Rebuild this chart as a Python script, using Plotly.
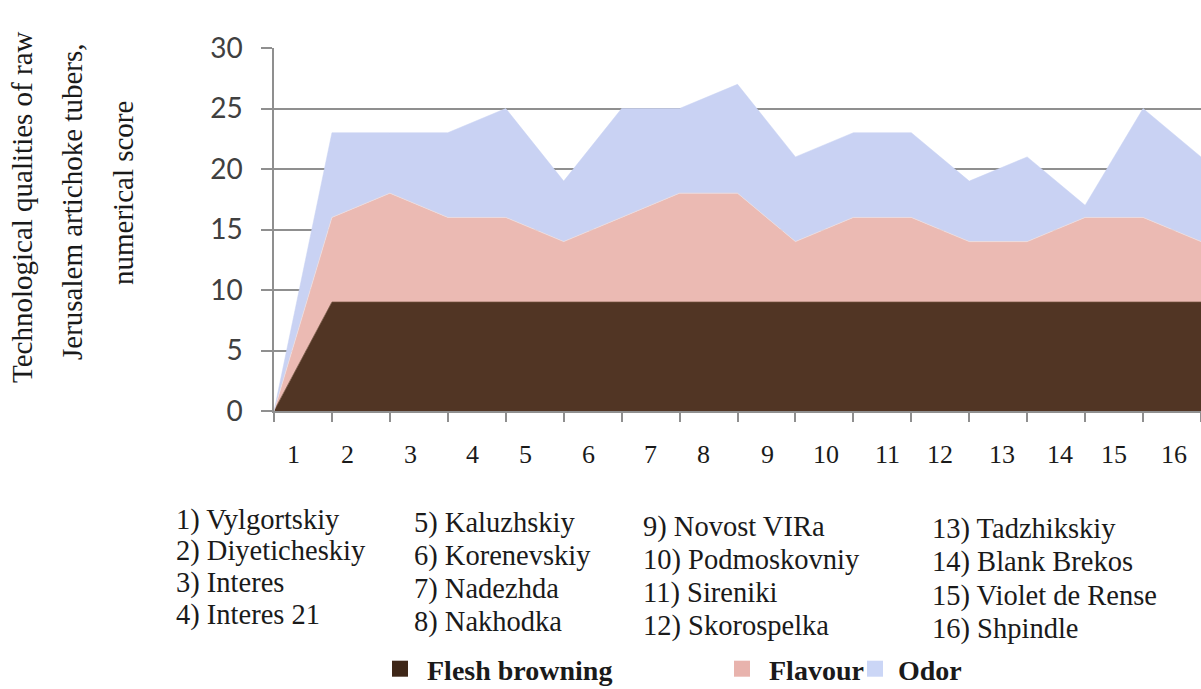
import plotly.graph_objects as go

# Jerusalem artichoke varieties, numbered as on the category axis
variety_names = [
    "Vylgortskiy", "Diyeticheskiy", "Interes", "Interes 21",
    "Kaluzhskiy", "Korenevskiy", "Nadezhda", "Nakhodka",
    "Novost VIRa", "Podmoskovniy", "Sireniki", "Skorospelka",
    "Tadzhikskiy", "Blank Brekos", "Violet de Rense", "Shpindle",
]
category_labels = ["1", "2", "3", "4", "5", "6", "7", "8",
                   "9", "10", "11", "12", "13", "14", "15", "16"]

# Stacked scores; the leading zero is the origin point of the area chart
flesh_browning = [0, 9, 9, 9, 9, 9, 9, 9, 9, 9, 9, 9, 9, 9, 9, 9, 9]
flavour = [0, 7, 9, 7, 7, 5, 7, 9, 9, 5, 7, 7, 5, 5, 7, 7, 5]
odor = [0, 7, 5, 7, 9, 5, 9, 7, 9, 7, 7, 7, 5, 7, 1, 9, 7]

y_ticks = [0, 5, 10, 15, 20, 25, 30]

# ---- layout geometry (pixels) ----
W, H = 1201, 689
M_L, M_R, M_T, M_B = 274, 0, 48, 278
PW, PH = W - M_L - M_R, H - M_T - M_B


def px_x(px):
    return (px - M_L) / PW


def px_y(py):
    return (H - M_B - py) / PH


# where each category number sits along the axis (in category units)
label_offsets = [0.33, 1.26, 2.35, 3.42, 4.34, 5.42, 6.49, 7.41,
                 8.51, 9.52, 10.59, 11.50, 12.57, 13.57, 14.49, 15.53]

SERIF = "Liberation Serif, Times New Roman, serif"
GRID = "#8f8f8f"

C_FLESH = "#513524"
C_FLAVOUR = "#ebbab3"
C_ODOR = "#c9d2f3"

xs = list(range(len(flesh_browning)))

fig = go.Figure()
fig.add_trace(go.Scatter(
    x=xs, y=flesh_browning, stackgroup="s", mode="lines",
    line=dict(width=0.8, color="#6b4c38"), fillcolor=C_FLESH,
    name="Flesh browning", showlegend=False, hoverinfo="skip"))
fig.add_trace(go.Scatter(
    x=xs, y=flavour, stackgroup="s", mode="lines",
    line=dict(width=0.8, color="#eedcdc"), fillcolor=C_FLAVOUR,
    name="Flavour", showlegend=False, hoverinfo="skip"))
fig.add_trace(go.Scatter(
    x=xs, y=odor, stackgroup="s", mode="lines",
    line=dict(width=0.5, color=C_ODOR), fillcolor=C_ODOR,
    name="Odor", showlegend=False, hoverinfo="skip"))

# legend swatches
for name, col, lg in [("Flesh browning", "#3e2718", "legend"),
                      ("Flavour", "#e8b3ad", "legend2"),
                      ("Odor", "#cbd6f6", "legend3")]:
    fig.add_trace(go.Scatter(
        x=[None], y=[None], mode="markers", name=name, legend=lg,
        marker=dict(symbol="square", size=16, color=col)))

legend_font = dict(family=SERIF, size=28, color="#1a1a1a", weight="bold")
legend_common = dict(orientation="h", font=legend_font, yanchor="middle",
                     xanchor="left", bgcolor="rgba(0,0,0,0)", borderwidth=0,
                     y=px_y(669))

annotations = []
# category numbers under the axis
for pos, lab in zip(label_offsets, category_labels):
    annotations.append(dict(
        x=pos, y=px_y(455), xref="x", yref="paper", text=lab,
        showarrow=False, xanchor="center", yanchor="middle",
        font=dict(family=SERIF, size=26, color="#1a1a1a")))

# key to the variety numbers, four columns
col_left = [174, 412, 641, 930]
col_rows = [[520, 551, 583, 615], [523, 556, 589, 622],
            [527, 560, 593, 626], [529, 562, 596, 629]]
for i, name in enumerate(variety_names):
    c, r = divmod(i, 4)
    annotations.append(dict(
        x=px_x(col_left[c]), y=px_y(col_rows[c][r]), xref="paper",
        yref="paper", text=f"{category_labels[i]}) {name}",
        showarrow=False, xanchor="left", yanchor="middle",
        font=dict(family=SERIF, size=28.5, color="#1a1a1a")))

# rotated y-axis title, three lines
title_lines = ["Technological qualities of raw",
               "Jerusalem artichoke tubers,",
               "numerical score"]
title_pos = [(22, 207), (72, 202), (123, 193)]
for text, (tx, ty) in zip(title_lines, title_pos):
    annotations.append(dict(
        x=px_x(tx), y=px_y(ty), xref="paper", yref="paper", text=text,
        showarrow=False, textangle=-90, xanchor="center", yanchor="middle",
        font=dict(family=SERIF, size=29, color="#1a1a1a")))

fig.update_layout(
    width=W, height=H,
    margin=dict(l=M_L, r=M_R, t=M_T, b=M_B, autoexpand=False),
    paper_bgcolor="white", plot_bgcolor="white",
    xaxis=dict(range=[0, len(xs) - 1], tickvals=xs, showticklabels=False,
               ticks="outside", ticklen=9, tickwidth=1.5, tickcolor=GRID,
               showline=True, linecolor=GRID, linewidth=1.5,
               showgrid=False, zeroline=False, fixedrange=True),
    yaxis=dict(range=[0, 30], tickvals=y_ticks, ticks="outside",
               ticklen=11, tickwidth=1.5, tickcolor=GRID,
               showline=True, linecolor=GRID, linewidth=1.5,
               showgrid=True, gridcolor=GRID, gridwidth=1.5,
               zeroline=False, ticklabelstandoff=13,
               tickfont=dict(family="Lato, Open Sans, sans-serif",
                             size=28, color="#404040"),
               fixedrange=True),
    legend=dict(x=px_x(373), itemwidth=44, **legend_common),
    legend2=dict(x=px_x(715), itemwidth=44, **legend_common),
    legend3=dict(x=px_x(852), itemwidth=36, **legend_common),
    annotations=annotations,
    showlegend=True,
)

fig.write_html("out.html")
